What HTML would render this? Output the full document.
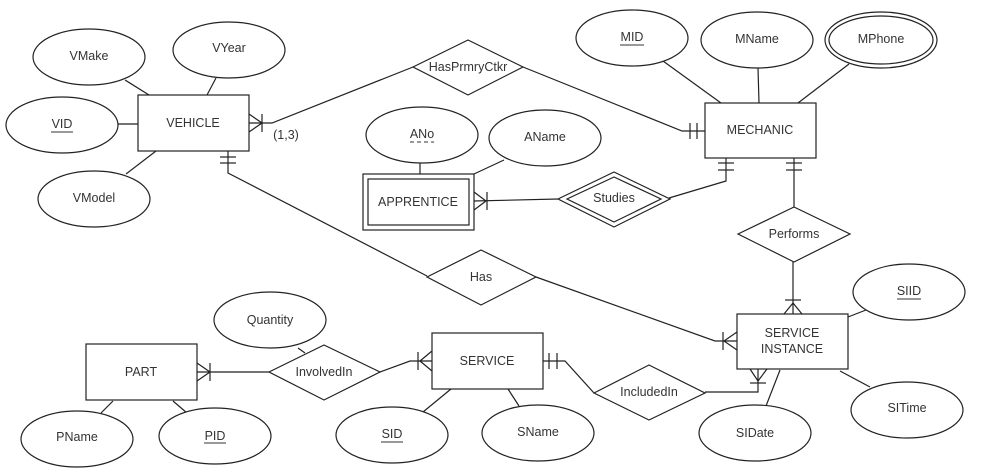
<!DOCTYPE html>
<html><head><meta charset="utf-8"><style>
html,body{margin:0;padding:0;background:#fff;}
svg{display:block;}
text{font-family:"Liberation Sans",Arial,sans-serif;font-size:12.5px;fill:#333;text-anchor:middle;dominant-baseline:central;}
</style></head><body>
<svg width="982" height="473" viewBox="0 0 982 473" xmlns="http://www.w3.org/2000/svg">
<g fill="none" stroke="#222" stroke-width="1.2">
<!-- attribute connector lines -->
<line x1="125" y1="80" x2="149" y2="95"/>
<line x1="216" y1="78" x2="207" y2="95"/>
<line x1="118" y1="124" x2="138" y2="124"/>
<line x1="126" y1="174" x2="156" y2="151"/>
<line x1="663" y1="61" x2="721" y2="103"/>
<line x1="758" y1="68" x2="759" y2="103"/>
<line x1="849" y1="64" x2="798" y2="103"/>
<line x1="420" y1="163" x2="420" y2="174"/>
<line x1="504" y1="160" x2="474" y2="174"/>
<line x1="848" y1="317" x2="866" y2="310"/>
<line x1="840" y1="371" x2="870" y2="387"/>
<line x1="780" y1="370" x2="766" y2="406"/>
<line x1="298" y1="348" x2="305" y2="353"/>
<line x1="113" y1="401" x2="101" y2="413"/>
<line x1="173" y1="401" x2="187" y2="413"/>
<line x1="451" y1="389" x2="423" y2="412"/>
<line x1="508" y1="389" x2="519" y2="406"/>

<!-- relationships -->
<!-- VEHICLE - HasPrmryCtkr - MECHANIC -->
<polyline points="249,123 272,123 413,67"/>
<line x1="249" y1="114" x2="262" y2="123"/><line x1="249" y1="132" x2="262" y2="123"/>
<line x1="262" y1="114" x2="262" y2="132"/>
<polyline points="523,67 682,131 705,131"/>
<line x1="690" y1="123" x2="690" y2="139"/><line x1="697" y1="123" x2="697" y2="139"/>
<!-- VEHICLE - Has - SI -->
<polyline points="228,151 228,173 427,276"/>
<line x1="220" y1="157" x2="236" y2="157"/><line x1="220" y1="163" x2="236" y2="163"/>
<polyline points="536,277 715,341 737,341"/>
<line x1="737" y1="332" x2="724" y2="341"/><line x1="737" y1="350" x2="724" y2="341"/>
<line x1="723" y1="332" x2="723" y2="350"/>
<!-- APPRENTICE - Studies - MECHANIC -->
<line x1="474" y1="201" x2="558" y2="199"/>
<line x1="474" y1="192" x2="486" y2="201"/><line x1="474" y1="210" x2="486" y2="201"/>
<line x1="487" y1="192" x2="487" y2="210"/>
<polyline points="669,198 726,181 726,158"/>
<line x1="718" y1="163" x2="734" y2="163"/><line x1="718" y1="170" x2="734" y2="170"/>
<!-- MECHANIC - Performs - SI -->
<line x1="794" y1="158" x2="794" y2="207"/>
<line x1="786" y1="163" x2="802" y2="163"/><line x1="786" y1="170" x2="802" y2="170"/>
<line x1="793" y1="262" x2="793" y2="314"/>
<line x1="785" y1="300" x2="801" y2="300"/>
<line x1="784" y1="314" x2="793" y2="303"/><line x1="802" y1="314" x2="793" y2="303"/>
<!-- PART - InvolvedIn - SERVICE -->
<line x1="197" y1="372" x2="269" y2="372"/>
<line x1="197" y1="363" x2="210" y2="372"/><line x1="197" y1="381" x2="210" y2="372"/>
<line x1="210" y1="363" x2="210" y2="381"/>
<polyline points="380,372 410,361 432,361"/>
<line x1="432" y1="351" x2="420" y2="361"/><line x1="432" y1="371" x2="420" y2="361"/>
<line x1="418" y1="352" x2="418" y2="370"/>
<!-- SERVICE - IncludedIn - SI -->
<polyline points="543,361 565,361 594,393"/>
<line x1="549" y1="353" x2="549" y2="369"/><line x1="557" y1="353" x2="557" y2="369"/>
<polyline points="705,392 758,392 758,369"/>
<line x1="750" y1="369" x2="758" y2="381"/><line x1="767" y1="369" x2="758" y2="381"/>
<line x1="750" y1="383" x2="766" y2="383"/>
</g>

<g fill="#fff" stroke="#222" stroke-width="1.2">
<!-- entities -->
<rect x="138" y="95" width="111" height="56"/>
<rect x="705" y="103" width="111" height="55"/>
<rect x="363" y="174" width="111" height="56"/>
<rect x="368" y="179" width="101" height="46"/>
<rect x="737" y="314" width="111" height="55"/>
<rect x="86" y="344" width="111" height="56"/>
<rect x="432" y="333" width="111" height="56"/>
<!-- diamonds -->
<polygon points="413,67 468,40 523,67 468,95"/>
<polygon points="427,277 481,250 536,277 481,305"/>
<polygon points="738,234 794,207 850,234 794,262"/>
<polygon points="558,199 614,172 670,199 614,227"/>
<polygon points="567,199 614,177 661,199 614,222"/>
<polygon points="269,372 324,345 380,372 324,400"/>
<polygon points="594,393 649,365 705,393 649,420"/>
<!-- ellipses -->
<ellipse cx="89" cy="57" rx="56" ry="28"/>
<ellipse cx="229" cy="50" rx="56" ry="28"/>
<ellipse cx="62" cy="125" rx="56" ry="28"/>
<ellipse cx="94" cy="199" rx="56" ry="28"/>
<ellipse cx="632" cy="38" rx="56" ry="28"/>
<ellipse cx="757" cy="40" rx="56" ry="28"/>
<ellipse cx="881" cy="40" rx="56" ry="28"/>
<ellipse cx="881" cy="40" rx="52" ry="24"/>
<ellipse cx="422" cy="135" rx="56" ry="28"/>
<ellipse cx="545" cy="138" rx="56" ry="28"/>
<ellipse cx="909" cy="292" rx="56" ry="28"/>
<ellipse cx="907" cy="410" rx="56" ry="28"/>
<ellipse cx="755" cy="433" rx="56" ry="28"/>
<ellipse cx="270" cy="320" rx="56" ry="28"/>
<ellipse cx="77" cy="439" rx="56" ry="28"/>
<ellipse cx="215" cy="436" rx="56" ry="28"/>
<ellipse cx="392" cy="435" rx="56" ry="28"/>
<ellipse cx="538" cy="433" rx="56" ry="28"/>
</g>

<g>
<text x="193" y="123">VEHICLE</text>
<text x="760" y="130">MECHANIC</text>
<text x="418" y="202">APPRENTICE</text>
<text x="792" y="333">SERVICE</text>
<text x="792" y="349">INSTANCE</text>
<text x="141" y="372">PART</text>
<text x="487" y="361">SERVICE</text>
<text x="468" y="67">HasPrmryCtkr</text>
<text x="481" y="277">Has</text>
<text x="794" y="234">Performs</text>
<text x="614" y="198">Studies</text>
<text x="324" y="372">InvolvedIn</text>
<text x="649" y="392">IncludedIn</text>
<text x="89" y="56">VMake</text>
<text x="229" y="48">VYear</text>
<text x="62" y="124">VID</text>
<text x="94" y="198">VModel</text>
<text x="632" y="37">MID</text>
<text x="757" y="39">MName</text>
<text x="881" y="39">MPhone</text>
<text x="422" y="134">ANo</text>
<text x="545" y="137">AName</text>
<text x="909" y="291">SIID</text>
<text x="907" y="408">SITime</text>
<text x="755" y="433">SIDate</text>
<text x="270" y="320">Quantity</text>
<text x="77" y="437">PName</text>
<text x="215" y="436">PID</text>
<text x="392" y="434">SID</text>
<text x="538" y="432">SName</text>
<text x="286" y="135">(1,3)</text>
</g>
<g stroke="#333" stroke-width="1">
<line x1="51" y1="132" x2="73" y2="132"/>
<line x1="620" y1="45" x2="644" y2="45"/>
<line x1="897" y1="299" x2="921" y2="299"/>
<line x1="204" y1="443" x2="226" y2="443"/>
<line x1="381" y1="442" x2="403" y2="442"/>
<line x1="410" y1="142" x2="434" y2="142" stroke-dasharray="4,3"/>
</g>
</svg>
</body></html>
